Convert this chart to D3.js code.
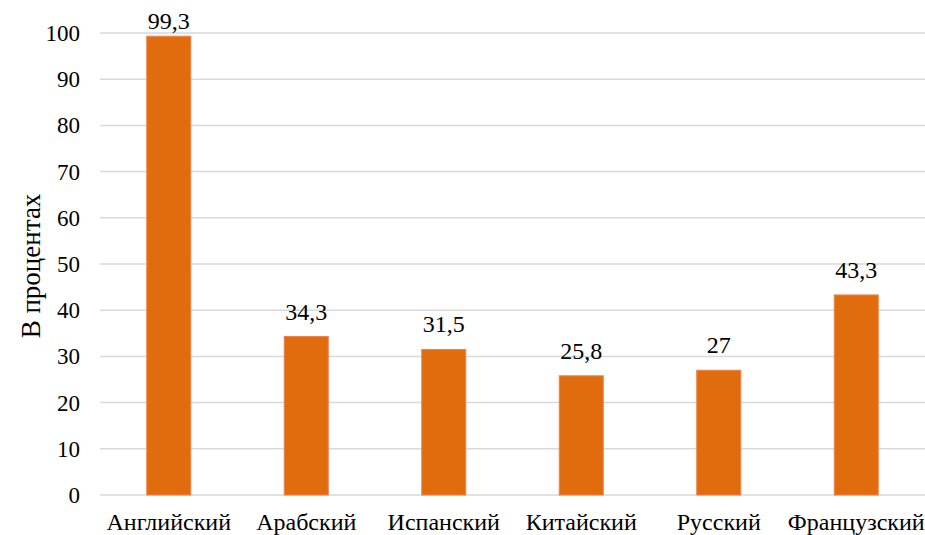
<!DOCTYPE html>
<html><head><meta charset="utf-8">
<script src="https://cdn.jsdelivr.net/npm/d3@7"></script>
</head><body style="margin:0"><svg id="c" width="925" height="535" style="font-family:'Times New Roman'"></svg>
<script>
const categories = ["Английский","Арабский","Испанский","Китайский","Русский","Французский"];
const values = [99.3, 34.3, 31.5, 25.8, 27, 43.3];
const valueLabels = ["99,3","34,3","31,5","25,8","27","43,3"];
const yTicks = [0,10,20,30,40,50,60,70,80,90,100];
const yTitle = "В процентах";

(function(){
const svg = d3.select("#c");
const mLeft = 100, mRight = 925, mTop = 33, mBottom = 495;
const x = d3.scaleBand().domain(categories).range([mLeft, mRight]).padding(0);
const y = d3.scaleLinear().domain([0, 100]).range([mBottom, mTop]);
const barW = x.bandwidth() * 0.32;
function ff(sel) { return sel.attr("font-family", "Times New Roman").style("font-family", "\"Times New Roman\""); }

svg.append("g").selectAll("line").data(yTicks).join("line")
  .attr("x1", mLeft).attr("x2", mRight)
  .attr("y1", d => y(d)).attr("y2", d => y(d))
  .attr("stroke", "#d9d9d9").attr("stroke-width", 1.5);

svg.append("g").selectAll("text").data(yTicks).join("text")
  .attr("x", 80).attr("y", d => y(d)).attr("dy", "0.35em")
  .attr("text-anchor", "end").attr("font-size", 23).call(ff).text(d => d);

svg.append("g").selectAll("rect").data(values).join("rect")
  .attr("x", (d, i) => x(categories[i]) + x.bandwidth() / 2 - barW / 2)
  .attr("y", d => y(d)).attr("width", barW).attr("height", d => y(0) - y(d))
  .attr("fill", "#E06C0E").attr("stroke", "#F0804A").attr("stroke-width", 1);

svg.append("g").selectAll("text").data(values).join("text")
  .attr("x", (d, i) => x(categories[i]) + x.bandwidth() / 2)
  .attr("y", d => Math.max(y(d) - 17, 29)).attr("text-anchor", "middle")
  .attr("font-size", 24).call(ff)
  .text((d, i) => valueLabels[i]);

svg.append("g").selectAll("text").data(categories).join("text")
  .attr("x", d => x(d) + x.bandwidth() / 2).attr("y", 530)
  .attr("text-anchor", "middle").attr("font-size", 24).call(ff).text(d => d);

svg.append("text").attr("transform", "translate(40,266) rotate(-90)")
  .attr("text-anchor", "middle").attr("font-size", 27).call(ff).text(yTitle);
})();
</script></body></html>
